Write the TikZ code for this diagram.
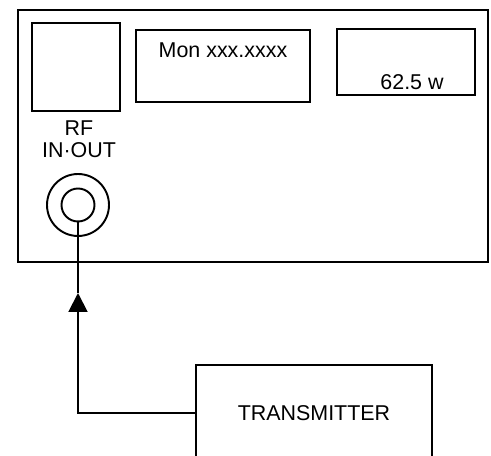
\documentclass[tikz,border=0pt]{standalone}
\usepackage{fontspec}
\setmainfont{Liberation Sans}
\usetikzlibrary{arrows.meta}
\begin{document}
\begin{tikzpicture}[x=0.02cm, y=-0.02cm, line width=1.1pt,
  box/.style={draw, rectangle, inner sep=0pt},
  lbl/.style={font=\fontsize{12.2}{14}\selectfont, inner sep=0pt}]
\clip (0,0) rectangle (491,456);

\node[box, minimum width=9.4cm, minimum height=5.04cm] (panel) at (253,136) {};
\node[box, minimum width=1.76cm, minimum height=1.76cm] (rfbox) at (76,67) {};
\node[box, minimum width=3.48cm, minimum height=1.44cm] (monbox) at (223,66) {};
\node[box, minimum width=2.76cm, minimum height=1.32cm] (pwrbox) at (406,62) {};

\node[lbl] (montext) at (223,50) {Mon xxx.xxxx};
\node[lbl] (pwrtext) at (412,82) {62.5 w};
\node[lbl] (rf) at (79,128) {RF};
\node[lbl] (inout) at (79,150) {IN·OUT};

\node[draw, circle, minimum size=1.24cm, inner sep=0pt] (jackout) at (78,205) {};
\node[draw, circle, minimum size=0.66cm, inner sep=0pt] (jack) at (78,205) {};

\node[box, lbl, minimum width=4.72cm, minimum height=1.92cm] (tx) at (314,413) {TRANSMITTER};

\coordinate (tip) at (78,293);
\draw[-{Triangle[width=0.38cm, length=0.38cm]}] (tx.west) -| (tip);
\draw (tip) -- (jack.south);
\end{tikzpicture}
\end{document}
